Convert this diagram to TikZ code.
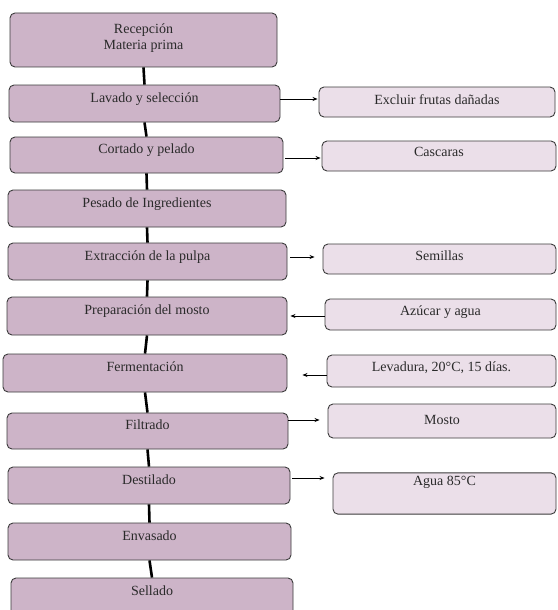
\documentclass[tikz,border=0pt]{standalone}
\usepackage{fontspec}
\setmainfont{Liberation Serif}
\usetikzlibrary{arrows.meta}
\definecolor{mainfill}{HTML}{CDB4C8}
\definecolor{sidefill}{HTML}{EBDFE9}
\definecolor{edge}{HTML}{3C3C3C}
\definecolor{txt}{HTML}{2A2A2A}
\tikzset{
  mainbox/.style={draw=edge, line width=0.9pt, fill=mainfill, rounded corners=5pt,
    text=txt, font=\fontsize{14}{17}\selectfont, align=center, text height=9pt, text depth=12pt},
  sidebox/.style={draw=edge, line width=0.9pt, fill=sidefill, rounded corners=5pt,
    text=txt, font=\fontsize{14}{17}\selectfont, align=center, text height=9pt, text depth=8pt},
  trunk/.style={line width=2.6pt, black},
  arr/.style={line width=0.8pt, black, -{Stealth[length=5pt,width=4pt]}}
}
\begin{document}
\begin{tikzpicture}[x=1pt,y=-1pt]
\useasboundingbox (0,0) rectangle (557,610);
\clip (0,0) rectangle (557,610);
\fill[white] (0,0) rectangle (557,610);
% main boxes
\node[mainbox, minimum width=267pt, minimum height=54pt, text height=24pt, text depth=4pt] (m1) at (143.5,40) {Recepción\\Materia prima};
\node[mainbox, minimum width=271pt, minimum height=37pt] (m2) at (144.5,103.5) {Lavado y selección};
\node[mainbox, minimum width=273pt, minimum height=36pt] (m3) at (146.5,155) {Cortado y pelado};
\node[mainbox, minimum width=278pt, minimum height=37pt] (m4) at (147,208.5) {Pesado de Ingredientes};
\node[mainbox, minimum width=279pt, minimum height=37pt] (m5) at (147.5,261.5) {Extracción de la pulpa};
\node[mainbox, minimum width=280pt, minimum height=38pt] (m6) at (147,316) {Preparación del mosto};
\node[mainbox, minimum width=284pt, minimum height=38pt] (m7) at (145,373) {Fermentación};
\node[mainbox, minimum width=281pt, minimum height=36pt] (m8) at (147.5,431) {Filtrado};
\node[mainbox, minimum width=282pt, minimum height=37pt] (m9) at (149,485.5) {Destilado};
\node[mainbox, minimum width=283pt, minimum height=37pt] (m10) at (149.5,541.5) {Envasado};
\node[mainbox, minimum width=282pt, minimum height=44pt, text depth=18.6pt] (m11) at (152,600) {Sellado};
% side boxes
\node[sidebox, minimum width=236pt, minimum height=30pt, text depth=4.6pt] (s1) at (437,102) {Excluir frutas dañadas};
\node[sidebox, minimum width=234pt, minimum height=30pt, text depth=8.6pt] (s2) at (439,156) {Cascaras};
\node[sidebox, minimum width=233pt, minimum height=30pt, text depth=6.6pt] (s3) at (439.5,259) {Semillas};
\node[sidebox, minimum width=231pt, minimum height=31pt, text depth=7.6pt] (s4) at (440.5,314.5) {Azúcar y agua};
\node[sidebox, minimum width=229pt, minimum height=32pt, text depth=8.6pt] (s5) at (441.5,371) {Levadura, 20°C, 15 días.};
\node[sidebox, minimum width=228pt, minimum height=34pt, text depth=3pt] (s6) at (442,421) {Mosto};
\node[sidebox, minimum width=223pt, minimum height=33pt, text depth=25.6pt] (s7) at (444.5,493.5) {Agua 85°C};
% trunk
\draw[trunk] (m1.south) -- (m2.north);
\draw[trunk] (m2.south) -- (m3.north);
\draw[trunk] (m3.south) -- (m4.north);
\draw[trunk] (m4.south) -- (m5.north);
\draw[trunk] (m5.south) -- (m6.north);
\draw[trunk] (m6.south) -- (m7.north);
\draw[trunk] (m7.south) -- (m8.north);
\draw[trunk] (m8.south) -- (m9.north);
\draw[trunk] (m9.south) -- (m10.north);
\draw[trunk] (m10.south) -- (m11.north);
% side arrows
\draw[arr, shorten >=1pt] ([shift={(0,-4.5)}]m2.east) -- ([shift={(0,-3)}]s1.west);
\draw[arr, shorten >=1pt, shorten <=2pt] ([shift={(0,3)}]m3.east) -- ([shift={(0,2)}]s2.west);
\draw[arr, shorten >=8pt, shorten <=3pt] ([shift={(0,-4.5)}]m5.east) -- ([shift={(0,-2)}]s3.west);
\draw[arr] ([shift={(0,1.5)}]s4.west) -- ([shift={(3,0)}]m6.east);
\draw[arr, shorten >=15pt] ([shift={(0,4)}]s5.west) -- ([shift={(0,2)}]m7.east);
\draw[arr, shorten >=8pt] ([shift={(0,-11)}]m8.east) -- ([shift={(0,-1)}]s6.west);
\draw[arr, shorten >=8pt, shorten <=2pt] ([shift={(0,-7.5)}]m9.east) -- ([shift={(0,-15.5)}]s7.west);
\end{tikzpicture}
\end{document}
